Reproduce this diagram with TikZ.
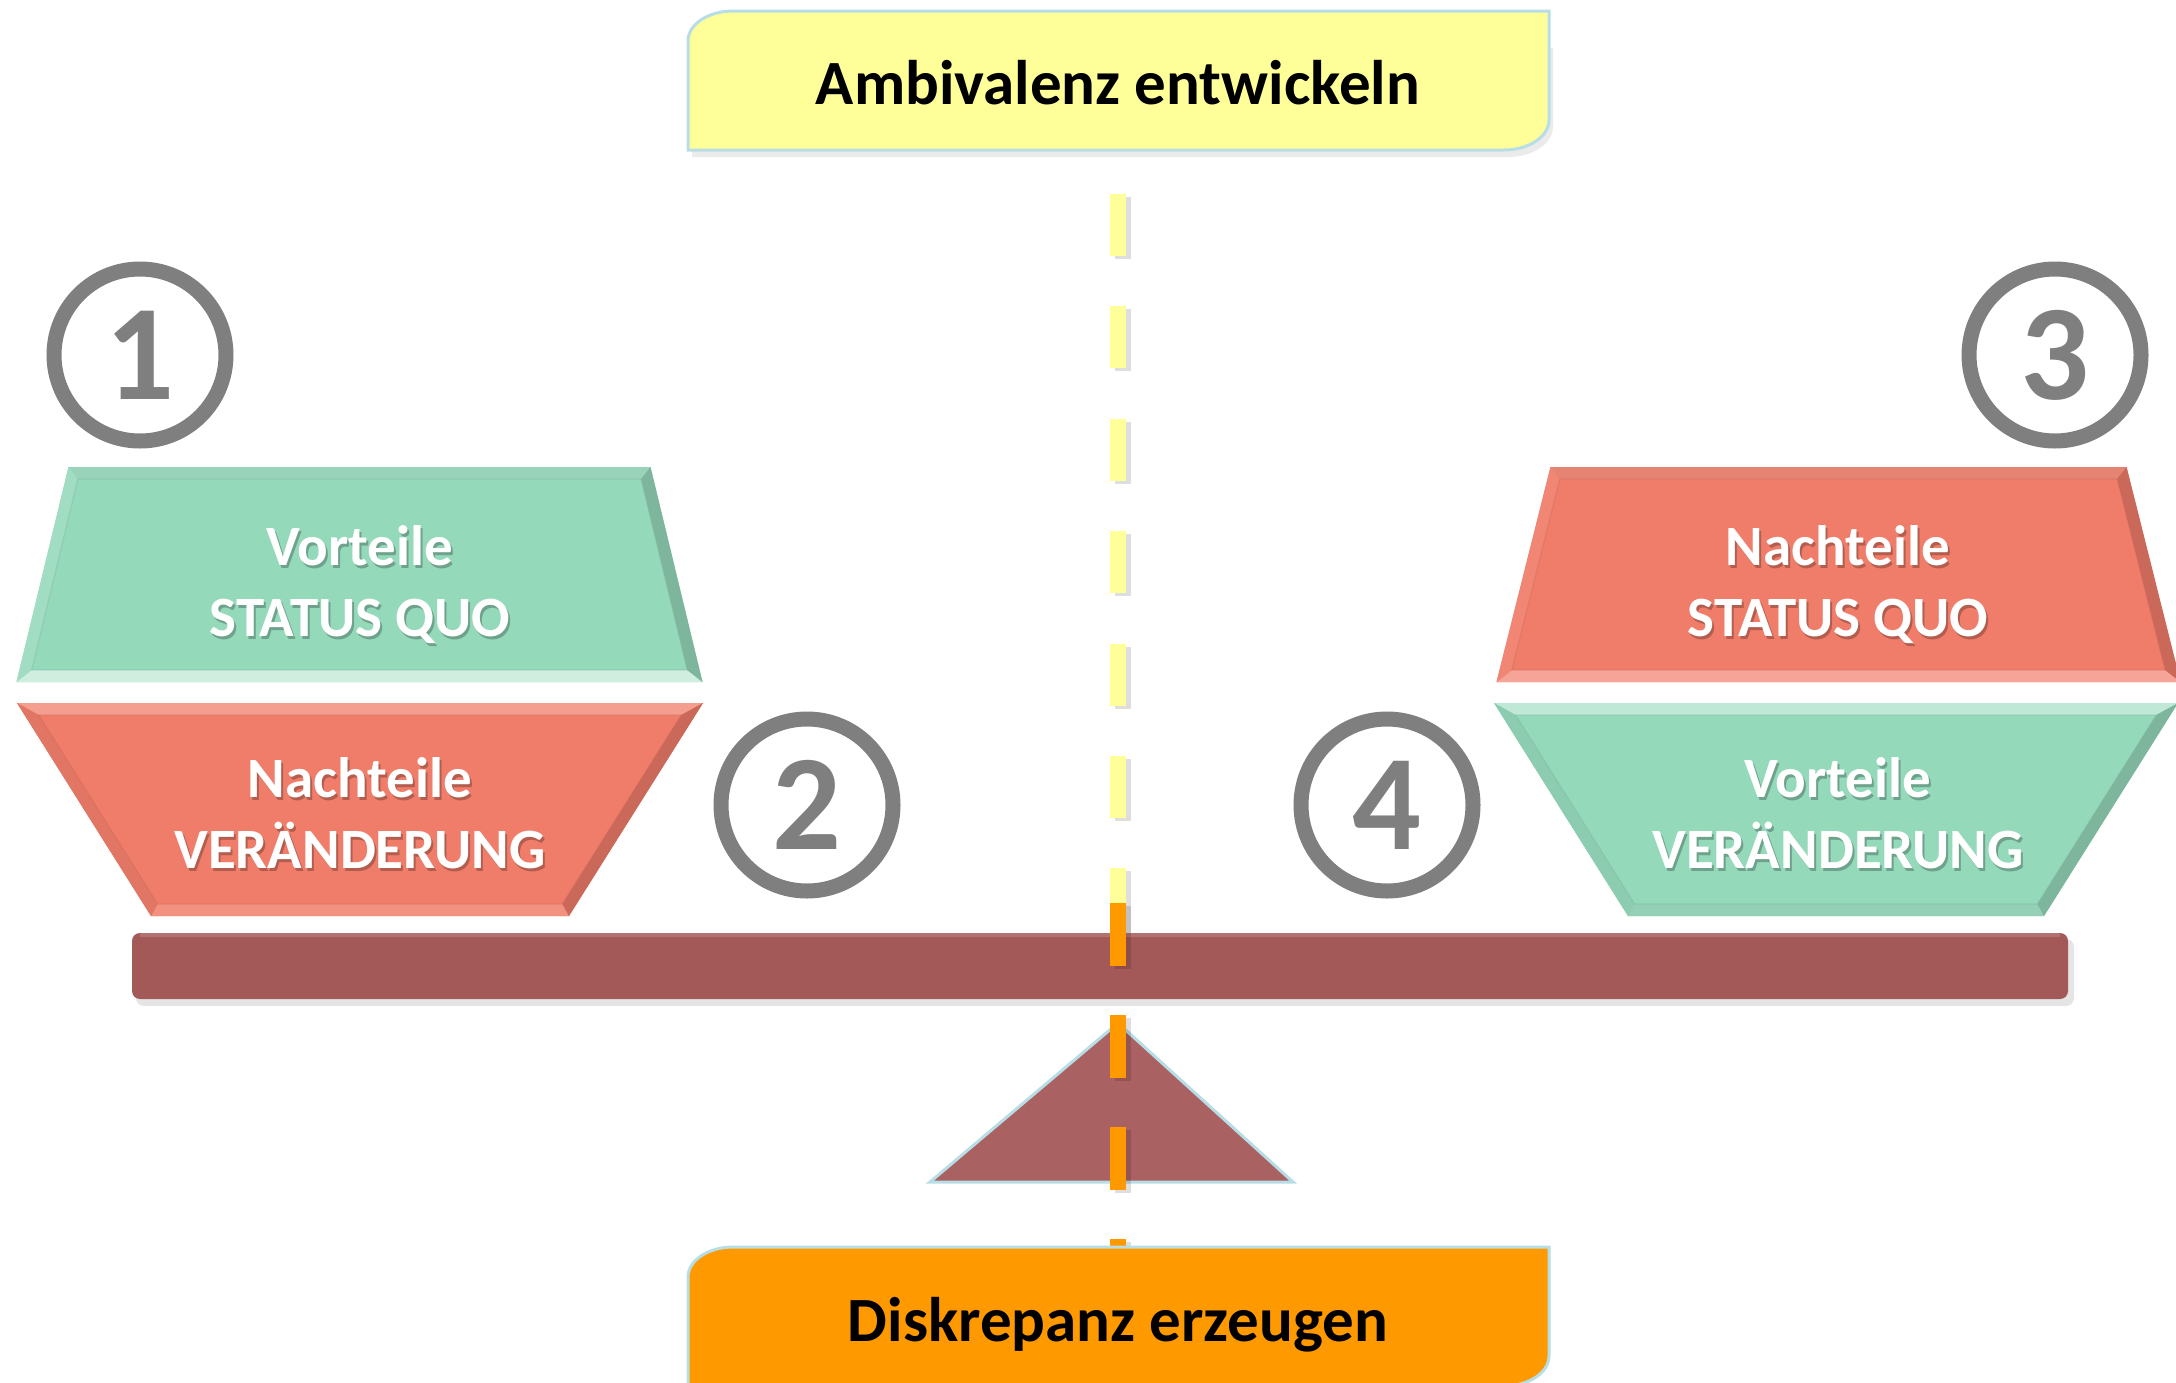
\documentclass[tikz,border=0pt]{standalone}
\usepackage{fontspec}
\setmainfont{Carlito}
\definecolor{mint}{HTML}{95D9BB}
\definecolor{salmon}{HTML}{F07D6A}
\definecolor{beamc}{HTML}{A45959}
\definecolor{edgeblue}{HTML}{B7DDE6}
\definecolor{pale}{HTML}{FFFF99}
\definecolor{amber}{HTML}{FF9900}
\definecolor{numgray}{HTML}{7F7F7F}
\newcommand\bevtrap[9]{%
  \pgfmathsetmacro\bs{(#5-#4)/(#3-#2)}%
  \pgfmathsetmacro\bi{12}%
  \pgfmathsetmacro\bk{\bi*sqrt(1+\bs*\bs)}%
  \pgfmathsetmacro\itw{#4+\bs*\bi-\bk}%
  \pgfmathsetmacro\ibw{#5-\bs*\bi-\bk}%
  \fill[#6] ({#1-#4},#2) -- ({#1+#4},#2) -- ({#1+#5},#3) -- ({#1-#5},#3) -- cycle;
  \fill[#7] ({#1-#4},#2) -- ({#1+#4},#2) -- ({#1+\itw},{#2+\bi}) -- ({#1-\itw},{#2+\bi}) -- cycle;
  \fill[#8] ({#1-#5},#3) -- ({#1+#5},#3) -- ({#1+\ibw},{#3-\bi}) -- ({#1-\ibw},{#3-\bi}) -- cycle;
  \fill[#9] ({#1-#4},#2) -- ({#1-\itw},{#2+\bi}) -- ({#1-\ibw},{#3-\bi}) -- ({#1-#5},#3) -- cycle;
  \fill[#6!84!black] ({#1+#4},#2) -- ({#1+\itw},{#2+\bi}) -- ({#1+\ibw},{#3-\bi}) -- ({#1+#5},#3) -- cycle;
  \draw[#6!85!black, line width=1.2pt, opacity=0.4] ({#1-\itw},{#2+\bi}) -- ({#1+\itw},{#2+\bi}) -- ({#1+\ibw},{#3-\bi}) -- ({#1-\ibw},{#3-\bi}) -- cycle;
}
\newcommand\wlab[4]{%
  \node[stxt] at ({#1+2},{#2+3}) {#3};
  \node[wtxt] (#4) at (#1,#2) {#3};
}
\tikzset{
  dig/.style={circle, draw=numgray, line width=15pt, minimum size=172pt, inner sep=0pt,
    text=numgray, font=\fontsize{136}{136}\selectfont\bfseries},
  wtxt/.style={text=white, font=\fontsize{57}{57}\selectfont\bfseries, anchor=base, inner sep=0pt},
  stxt/.style={text=black, opacity=0.25, font=\fontsize{57}{57}\selectfont\bfseries, anchor=base, inner sep=0pt},
  ttl/.style={text=black, font=\fontsize{63}{63}\selectfont\bfseries, anchor=base, inner sep=0pt},
  boxedge/.style={draw=edgeblue, line width=3pt},
  dashline/.style={line width=16pt, line cap=butt},
}
\begin{document}
\begin{tikzpicture}[x=1pt, y=-1pt]
\useasboundingbox (0,0) rectangle (2176,1382);
\fill[white] (0,0) rectangle (2176,1382);

% circled numbers
\node[dig] (n1) at (140,355) {1};
\node[dig] (n3) at (2055,355) {3};
\node[dig] (n2) at (807,805) {2};
\node[dig] (n4) at (1387,805) {4};

% trapezoids
\bevtrap{359.5}{467}{682}{291}{343}{mint}{mint!92!gray!95!white}{mint!45!white}{mint!90!white}
\bevtrap{360}{703}{916}{343}{209}{salmon}{salmon!75!white}{salmon!85!white}{salmon!94!black}
\bevtrap{1838.5}{467}{682}{288}{342}{salmon}{salmon!90!gray!95!white}{salmon!70!white}{salmon!93!white}
\bevtrap{1836}{703}{916}{342}{208}{mint}{mint!60!white}{mint!90!gray}{mint!94!black}

\wlab{360}{565}{Vorteile}{lt1}
\wlab{360}{636}{STATUS QUO}{lt2}
\wlab{360}{797}{Nachteile}{lb1}
\wlab{360}{868}{VERÄNDERUNG}{lb2}
\wlab{1838}{565}{Nachteile}{rt1}
\wlab{1838}{636}{STATUS QUO}{rt2}
\wlab{1838}{797}{Vorteile}{rb1}
\wlab{1838}{868}{VERÄNDERUNG}{rb2}

% beam and fulcrum
\fill[black, opacity=0.10, rounded corners=8pt] (136,939) rectangle (2074,1006);
\fill[beamc, rounded corners=8pt] (132,933) rectangle (2068,999);
\fill[beamc!85!white] (140,933) rectangle (2060,937);
\filldraw[fill=beamc!95!white, draw=edgeblue, line width=3pt, line join=miter]
  (1118,1023) -- (1293,1182) -- (930,1182) -- cycle;

% dashed axis
\coordinate (ya) at (1118,194);
\coordinate (yb) at (1118,930);
\coordinate (oa) at (1118,1302);
\coordinate (ob) at (1118,903);
\draw[dashline, black, opacity=0.13, dash pattern=on 62pt off 50.4pt] ([xshift=5pt,yshift=-3pt]ya) -- ([xshift=5pt,yshift=-3pt]yb);
\draw[dashline, pale, dash pattern=on 62pt off 50.4pt] (ya) -- (yb);
\draw[dashline, black, opacity=0.13, dash pattern=on 63pt off 49pt] ([xshift=5pt,yshift=-3pt]oa) -- ([xshift=5pt,yshift=-3pt]ob);
\draw[dashline, amber, dash pattern=on 63pt off 49pt] (oa) -- (ob);

% top box
\fill[black, opacity=0.08] (692,157) -- (692,48) -- (1553,48) -- (1553,127) .. controls (1553,143.6) and (1532.8,157) .. (1508,157) -- cycle;
\path[fill=pale, boxedge] (688,150) -- (688,41) .. controls (688,24.4) and (708.2,11) .. (733,11)
  -- (1549,11) -- (1549,120) .. controls (1549,136.6) and (1528.8,150) .. (1504,150) -- cycle;
\node[ttl] (title) at (1118,104) {Ambivalenz entwickeln};

% bottom box
\path[fill=amber, boxedge] (688,1386) -- (688,1277) .. controls (688,1260.4) and (708.2,1247) .. (733,1247)
  -- (1549,1247) -- (1549,1356) .. controls (1549,1372.6) and (1528.8,1386) .. (1504,1386) -- cycle;
\node[ttl] (bottom) at (1118,1341) {Diskrepanz erzeugen};
\end{tikzpicture}
\end{document}
